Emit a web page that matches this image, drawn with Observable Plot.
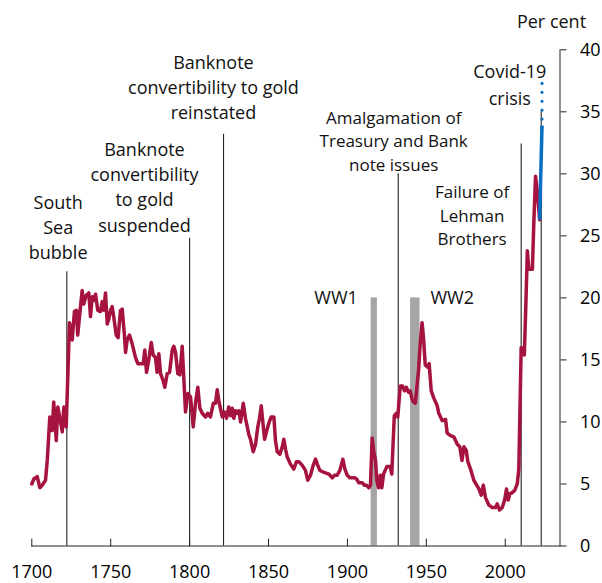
<!DOCTYPE html>
<html>
<head>
<meta charset="utf-8">
<script src="https://cdn.jsdelivr.net/npm/d3@7"></script>
<script src="https://cdn.jsdelivr.net/npm/@observablehq/plot@0.6"></script>
<style>
  html, body { margin: 0; padding: 0; background: #fff; }
  #chart { width: 602px; height: 583px; }
</style>
</head>
<body>
<div id="chart"></div>
<script>
// Per cent series: [year position, value]
const series1700 = [[1700,5.0],[1701.3,5.4],[1703.4,5.6],[1705.1,4.7],[1706.6,4.9],[1708.7,5.3],[1709.8,6.9],[1711.4,10.4],[1712.9,9.3],[1713.9,11.6],[1715.5,8.5],[1716.5,11.2],[1717.7,10.4],[1719.3,9.2],[1720.3,11.2],[1721.8,9.6],[1723.9,18.0],[1725.6,16.6],[1727.0,18.9],[1728.3,19.0],[1729.1,17.0],[1730.4,18.7],[1731.9,20.6],[1732.9,19.5],[1734.4,20.2],[1736.1,20.4],[1737.2,18.5],[1738.3,20.1],[1739.3,19.8],[1740.4,20.3],[1741.8,19.0],[1743.5,18.9],[1744.6,19.7],[1745.6,19.0],[1746.7,20.4],[1747.8,17.9],[1748.8,18.3],[1749.9,19.0],[1750.9,19.3],[1751.9,18.5],[1753.5,17.0],[1754.7,16.8],[1756.2,19.0],[1757.3,19.1],[1758.7,17.0],[1759.4,15.6],[1760.4,16.6],[1761.9,17.0],[1763.6,16.3],[1765.7,15.2],[1767.2,14.7],[1768.9,14.7],[1770.6,14.7],[1771.6,15.8],[1772.7,14.0],[1774.1,15.0],[1775.7,16.4],[1776.9,15.4],[1778.4,15.2],[1779.4,14.0],[1780.5,15.5],[1781.6,13.9],[1783.3,13.3],[1784.3,12.8],[1785.8,13.9],[1787.3,14.0],[1789.0,15.8],[1790.0,16.1],[1791.1,15.6],[1792.5,13.9],[1793.8,13.8],[1795.3,16.1],[1796.8,12.3],[1797.4,10.8],[1798.9,12.3]];
const series1800 = [[1800.6,12.0],[1802.3,9.6],[1803.7,11.5],[1805.2,12.8],[1806.5,11.1],[1808.0,10.7],[1810.1,10.4],[1811.5,10.7],[1813.2,10.4],[1815.0,11.5],[1816.4,11.5],[1817.5,12.6],[1818.5,11.7],[1820.7,10.4],[1822.1,10.8],[1823.4,10.3],[1824.8,11.2],[1825.9,10.5],[1827.0,11.1],[1828.0,10.3],[1829.1,10.9],[1830.2,10.7],[1831.2,10.9],[1832.3,10.0],[1834.0,11.5],[1835.4,10.3],[1837.5,9.0],[1838.6,8.6],[1840.3,7.6],[1841.8,8.2],[1843.2,9.6],[1844.3,10.3],[1845.4,11.3],[1846.4,10.0],[1847.5,8.6],[1848.7,9.2],[1850.2,9.9],[1851.7,10.4],[1853.4,10.4],[1854.4,8.5],[1855.5,7.6],[1857.2,7.4],[1858.7,8.0],[1859.7,8.6],[1860.8,7.8],[1861.8,7.2],[1863.9,6.6],[1866.0,6.2],[1867.7,6.8],[1869.2,6.8],[1871.4,6.5],[1873.4,6.1],[1874.9,5.3],[1876.6,5.7],[1878.3,6.5],[1879.8,7.0],[1880.9,6.6],[1882.5,6.1],[1884.0,6.0],[1886.1,5.9],[1888.2,5.8],[1890.4,5.5],[1891.8,5.7],[1893.5,5.7],[1895.2,6.1],[1897.1,7.0],[1898.4,6.2],[1899.9,5.7]];
const series1900 = [[1901.5,5.5],[1903.0,5.5],[1904.5,5.5],[1905.8,5.4],[1907.2,5.1],[1909.4,5.1],[1910.8,4.9],[1912.1,4.9],[1913.6,4.7],[1914.6,4.9],[1915.7,8.7],[1916.7,7.6],[1917.8,6.9],[1918.6,5.3],[1919.7,4.7],[1920.8,5.7],[1921.8,4.7],[1922.9,5.8],[1925.0,6.4],[1927.1,6.4],[1928.1,5.8],[1929.7,10.5],[1930.9,10.7],[1931.9,10.4],[1933.5,12.9],[1934.9,12.9],[1936.2,12.5],[1937.3,12.8],[1938.7,12.4],[1939.8,12.5],[1940.8,11.9],[1941.9,11.6],[1943.0,11.5],[1944.0,12.8],[1945.1,14.2],[1946.1,16.3],[1947.3,18.0],[1948.2,16.8],[1949.3,14.6],[1950.9,14.4],[1951.8,14.7],[1953.1,12.5],[1954.8,11.9],[1956.9,11.3],[1957.9,10.7],[1960.1,10.1],[1962.2,10.2],[1963.2,9.1],[1965.3,8.9],[1967.4,8.8],[1969.6,8.2],[1971.2,8.0],[1972.6,6.9],[1973.8,8.0],[1975.3,7.7],[1976.3,6.8],[1978.0,6.2],[1980.1,5.3],[1983.3,4.6],[1984.8,4.1],[1986.1,4.9],[1987.5,3.9],[1989.6,3.3],[1991.8,3.1],[1993.9,3.1],[1994.9,3.4],[1996.4,2.9],[1998.1,3.1],[1999.6,3.7]];
const series2000 = [[2000.8,4.6],[2001.9,3.7],[2002.9,4.2],[2004.4,4.3],[2006.1,4.5],[2007.6,5.0],[2008.6,6.2],[2010.1,16.0],[2011.4,15.6],[2012.1,15.4],[2013.3,20.5],[2014.0,23.8],[2015.0,22.3],[2017.2,22.3],[2018.1,26.0],[2019.2,29.8],[2020.3,28.6],[2021.8,26.3]];
const covidActual = [[2021.8,26.3],[2023.3,33.9]];
const covidProjection = [[2023.3,33.7],[2023.3,37.3]];

// Events: vertical lines
const eventYears = [1722.2, 1800, 1821.5, 1932.2, 2010.1, 2022.8];
const eventTops  = [22.1, 24.8, 33.2, 30.0, 32.4, 35.0];

// Wars (shaded bars)
const warStart = [1915, 1940];
const warEnd   = [1919, 1946];
const warTop   = [20, 20];
const warNames = ["WW1", "WW2"];
const warLabelX = [1892.8, 1966.4];

// Annotation labels
const bigLabels = ["South\nSea\nbubble", "Banknote\nconvertibility\nto gold\nsuspended", "Banknote\nconvertibility to gold\nreinstated"];
const bigLabelX = [1716.7, 1771.4, 1815.1];
const bigLabelY = [25.8, 29.05, 37.1];
const smallLabels = ["Amalgamation of\nTreasury and Bank\nnote issues", "Failure of\nLehman\nBrothers"];
const smallLabelX = [1929.3, 1979.0];
const smallLabelY = [32.75, 26.75];
const covidLabel = ["Covid-19\ncrisis"];
const covidLabelX = [2002.9];
const covidLabelY = [37.3];

const xTicks = [1700, 1750, 1800, 1850, 1900, 1950, 2000];
const yTicks = [0, 5, 10, 15, 20, 25, 30, 35, 40];
const xDomain = [1700, 2034.7];
const yDomain = [0, 40];
const unitLabel = "Per cent";

const history = [...series1700, ...series1800, ...series1900, ...series2000].map(([x, y]) => ({x, y}));
const actual = covidActual.map(([x, y]) => ({x, y}));
const projection = covidProjection.map(([x, y]) => ({x, y}));
const events = eventYears.map((x, i) => ({x, top: eventTops[i]}));
const wars = warStart.map((s, i) => ({s, e: warEnd[i], top: warTop[i], name: warNames[i], lx: warLabelX[i]}));
const big = bigLabels.map((t, i) => ({t, x: bigLabelX[i], y: bigLabelY[i]}));
const small = smallLabels.map((t, i) => ({t, x: smallLabelX[i], y: smallLabelY[i]}));
const covid = covidLabel.map((t, i) => ({t, x: covidLabelX[i], y: covidLabelY[i]}));

const tickShape = { draw(ctx, l) { ctx.moveTo(0, 0); ctx.lineTo(0, -l); } };

const chart = Plot.plot({
  width: 602,
  height: 583,
  marginLeft: 31.3,
  marginRight: 42.5,
  marginTop: 49.3,
  marginBottom: 37.5,
  x: { domain: xDomain },
  y: { domain: yDomain },
  style: { fontFamily: "'Open Sans', sans-serif", fontSize: "18px", color: "#000", background: "#fff" },
  marks: [
    Plot.rectY(wars, { x1: "s", x2: "e", y: "top", fill: "#a6a6a6" }),
    Plot.ruleX(events, { x: "x", y1: 0, y2: "top", stroke: "#222", strokeWidth: 1.1 }),
    Plot.line(history, { x: "x", y: "y", stroke: "#a6133f", strokeWidth: 3.5, strokeLinejoin: "round", strokeLinecap: "round" }),
    Plot.line(actual, { x: "x", y: "y", stroke: "#0a6fc2", strokeWidth: 3.5, strokeLinecap: "butt" }),
    Plot.line(projection, { x: "x", y: "y", stroke: "#0a6fc2", strokeWidth: 3.2, strokeLinecap: "round", strokeDasharray: "0,8.9" }),
    Plot.frame({ anchor: "bottom", stroke: "#222" }),
    Plot.frame({ anchor: "right", stroke: "#222" }),
    Plot.vectorX(xTicks, { x: d => d, frameAnchor: "bottom", length: 7, anchor: "start", shape: tickShape, strokeWidth: 1, stroke: "#222" }),
    Plot.axisX({ ticks: xTicks, tickSize: 0, tickPadding: 19, tickFormat: d => String(d), fontSize: 18 }),
    Plot.axisY({ anchor: "right", ticks: yTicks, tickSize: 6, tickPadding: 14, fontSize: 18, stroke: "#222" }),
    Plot.text(big, { x: "x", y: "y", text: "t", fontSize: 18, lineHeight: 1.41, lineAnchor: "middle", textAnchor: "middle", fill: "#111" }),
    Plot.text(small, { x: "x", y: "y", text: "t", fontSize: 17, lineHeight: 1.38, lineAnchor: "middle", textAnchor: "middle", fill: "#111" }),
    Plot.text(covid, { x: "x", y: "y", text: "t", fontSize: 18, lineHeight: 1.5, lineAnchor: "middle", textAnchor: "middle", fill: "#111" }),
    Plot.text(wars, { x: "lx", y: "top", text: "name", fontSize: 18, lineAnchor: "middle", textAnchor: "middle", fill: "#111" }),
    Plot.text([unitLabel], { frameAnchor: "top-right", dx: -8.5, dy: -27.3, fontSize: 18, lineAnchor: "middle", textAnchor: "middle", fill: "#111" })
  ]
});
document.getElementById("chart").appendChild(chart);
</script>
</body>
</html>
